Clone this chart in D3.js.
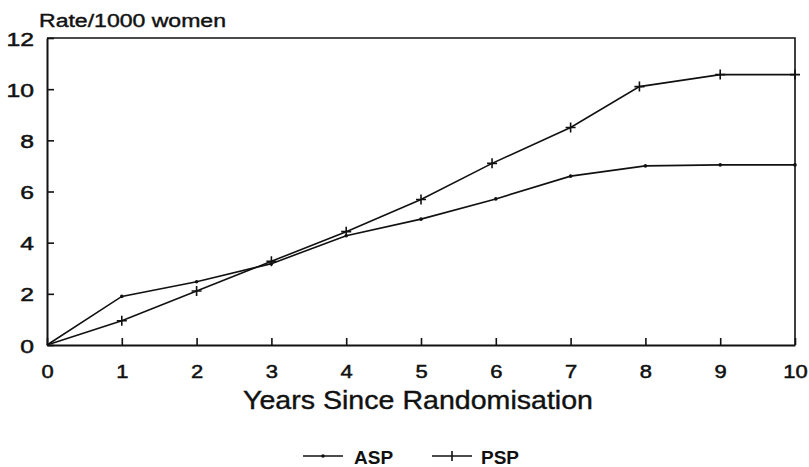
<!DOCTYPE html>
<html><head><meta charset="utf-8">
<script src="https://cdn.jsdelivr.net/npm/d3@7"></script>
<style>
html,body{margin:0;padding:0;background:#fff;}
svg{display:block;font-family:"Liberation Sans",Arial,Helvetica,sans-serif;}
</style></head>
<body>
<svg id="chart" width="809" height="467"></svg>
<script>
// ---- data ----
const aspYears = [0, 1, 2, 3, 4, 5, 6, 7, 8, 9, 10];
const aspRate  = [0, 1.9, 2.47, 3.18, 4.27, 4.92, 5.71, 6.6, 7.0, 7.04, 7.04];
const pspYears = [0, 1, 2, 3, 4, 5, 5.95, 7, 7.92, 9, 10];
const pspRate  = [0, 0.95, 2.11, 3.27, 4.43, 5.69, 7.1, 8.5, 10.1, 10.57, 10.57];
const xTicks = [0, 1, 2, 3, 4, 5, 6, 7, 8, 9, 10];
const yTicks = [0, 2, 4, 6, 8, 10, 12];
const yLabel = "Rate/1000 women";
const xLabel = "Years Since Randomisation";
const seriesNames = ["ASP", "PSP"];

const svg = d3.select("#chart");
const x = d3.scaleLinear().domain([0, 10]).range([47, 795]);
const y = d3.scaleLinear().domain([0, 12]).range([345, 38]);

// frame (top and right)
svg.append("path")
  .attr("d", `M${x(0)},${y(12)}H${x(10)}V${y(0)}`)
  .attr("fill", "none").attr("stroke", "#111").attr("stroke-width", 1.6);

// x axis
const gx = svg.append("g").attr("transform", `translate(0,${y(0)})`)
  .call(d3.axisBottom(x).tickValues(xTicks).tickSizeInner(-7).tickSizeOuter(0).tickFormat(d3.format("d")));
gx.select(".domain").attr("stroke", "#111").attr("stroke-width", 1.8);
gx.selectAll(".tick line").attr("stroke", "#111").attr("stroke-width", 1.6);
gx.selectAll(".tick text")
  .attr("y", 0).attr("dy", 0)
  .attr("transform", "translate(0,33) scale(1.22,1)")
  .attr("font-size", 18).attr("fill", "#111")
  .attr("stroke", "#111").attr("stroke-width", 0.5)
  .attr("font-family", "Liberation Sans, Arial, sans-serif");

// y axis
const gy = svg.append("g").attr("transform", `translate(${x(0)},0)`)
  .call(d3.axisLeft(y).tickValues(yTicks).tickSizeInner(-7).tickSizeOuter(0).tickFormat(d3.format("d")));
gy.select(".domain").attr("stroke", "#111").attr("stroke-width", 2);
gy.selectAll(".tick line").attr("stroke", "#111").attr("stroke-width", 1.6);
gy.selectAll(".tick text")
  .attr("x", 0).attr("dy", 0)
  .attr("transform", "translate(-13,7) scale(1.3,1)")
  .attr("font-size", 19).attr("fill", "#111")
  .attr("stroke", "#111").attr("stroke-width", 0.5)
  .attr("font-family", "Liberation Sans, Arial, sans-serif");

// lines
const line = d3.line().x(d => x(d[0])).y(d => y(d[1]));
const aspData = aspYears.map((v, i) => [v, aspRate[i]]);
const pspData = pspYears.map((v, i) => [v, pspRate[i]]);

svg.append("path").datum(aspData).attr("d", line)
  .attr("fill", "none").attr("stroke", "#111").attr("stroke-width", 1.6);
svg.append("path").datum(pspData).attr("d", line)
  .attr("fill", "none").attr("stroke", "#111").attr("stroke-width", 1.6);

// markers
svg.selectAll(".asp-dot").data(aspData.slice(1)).enter().append("circle")
  .attr("cx", d => x(d[0])).attr("cy", d => y(d[1])).attr("r", 1.8).attr("fill", "#111");
const cross = 5;
svg.selectAll(".psp-cross").data(pspData.slice(1)).enter().append("path")
  .attr("d", d => `M${x(d[0]) - cross},${y(d[1])}h${2 * cross}M${x(d[0])},${y(d[1]) - cross}v${2 * cross}`)
  .attr("stroke", "#111").attr("stroke-width", 1.6).attr("fill", "none");

// titles
svg.append("text").attr("x", 39).attr("y", 27)
  .attr("font-size", 18).attr("fill", "#111").attr("stroke", "#111").attr("stroke-width", 0.4)
  .attr("textLength", 187).attr("lengthAdjust", "spacingAndGlyphs")
  .text(yLabel);
svg.append("text").attr("x", 243).attr("y", 409)
  .attr("font-size", 26).attr("fill", "#111").attr("stroke", "#111").attr("stroke-width", 0.4)
  .attr("textLength", 350).attr("lengthAdjust", "spacingAndGlyphs")
  .text(xLabel);

// legend
const legY = 456;
const legItems = [
  {name: seriesNames[0], x1: 303, x2: 343, tx: 354, mark: "dot"},
  {name: seriesNames[1], x1: 432, x2: 472, tx: 481, mark: "cross"}
];
legItems.forEach(it => {
  svg.append("line").attr("x1", it.x1).attr("x2", it.x2).attr("y1", legY).attr("y2", legY)
    .attr("stroke", "#111").attr("stroke-width", 1.6);
  const cx = (it.x1 + it.x2) / 2;
  if (it.mark === "dot") {
    svg.append("circle").attr("cx", cx).attr("cy", legY).attr("r", 1.8).attr("fill", "#111");
  } else {
    svg.append("path").attr("d", `M${cx},${legY - 5}v10`).attr("stroke", "#111").attr("stroke-width", 1.6);
  }
  svg.append("text").attr("x", it.tx).attr("y", 464)
    .attr("font-size", 19).attr("font-weight", "bold").attr("fill", "#111")
    .text(it.name);
});
</script>
</body></html>
